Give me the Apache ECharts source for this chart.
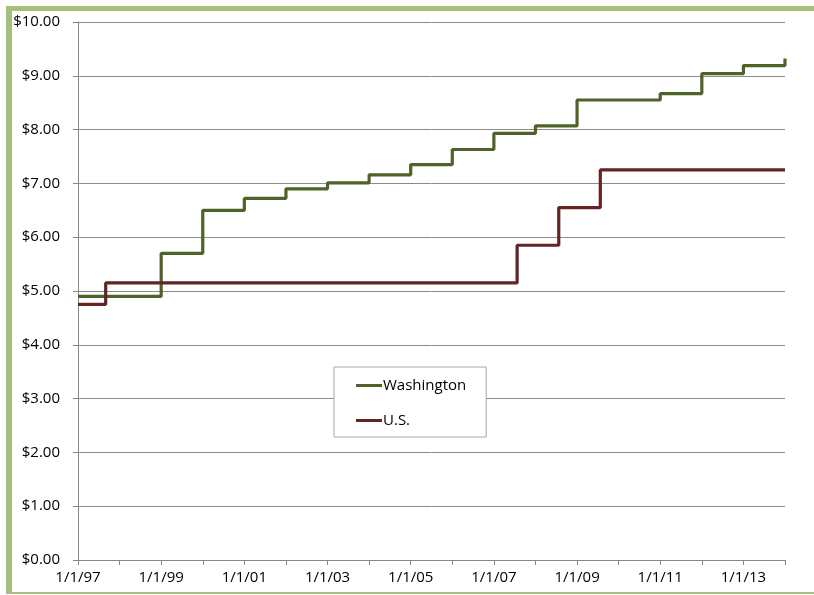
<!DOCTYPE html>
<html>
<head>
<meta charset="utf-8">
<script src="https://cdn.jsdelivr.net/npm/echarts@6/dist/echarts.min.js"></script>
<style>
html,body{margin:0;padding:0;background:#fff;}
#chart{width:814px;height:595px;}
</style>
</head>
<body>
<div id="chart"></div>
<script>
// Data (dates when each minimum wage took effect)
var waDates = ['1997-01-01','1999-01-01','2000-01-01','2001-01-01','2002-01-01','2003-01-01','2004-01-01','2005-01-01','2006-01-01','2007-01-01','2008-01-01','2009-01-01','2010-01-01','2011-01-01','2012-01-01','2013-01-01','2014-01-01'];
var waValues = [4.90, 5.70, 6.50, 6.72, 6.90, 7.01, 7.16, 7.35, 7.63, 7.93, 8.07, 8.55, 8.55, 8.67, 9.04, 9.19, 9.32];
var usDates = ['1997-01-01','1997-09-01','2007-07-24','2008-07-24','2009-07-24','2014-01-01'];
var usValues = [4.75, 5.15, 5.85, 6.55, 7.25, 7.25];
var seriesNames = ['Washington', 'U.S.'];
var yTicks = [0,1,2,3,4,5,6,7,8,9,10];

function toYear(s) {
  var p = s.split('-').map(Number);
  var start = Date.UTC(p[0], 0, 1), end = Date.UTC(p[0] + 1, 0, 1);
  return p[0] + (Date.UTC(p[0], p[1] - 1, p[2]) - start) / (end - start);
}
function pairs(dates, vals) {
  return dates.map(function (d, i) { return [toYear(d), vals[i]]; });
}

var font = '"Open Sans", "Noto Sans", sans-serif';
var chart = echarts.init(document.getElementById('chart'), null, {renderer: 'canvas'});
chart.setOption({
  animation: false,
  backgroundColor: '#ffffff',
  grid: {left: 78, right: 29, top: 22, bottom: 35, containLabel: false},
  xAxis: {
    type: 'value',
    min: 1997, max: 2014, interval: 1,
    axisLine: {show: true, lineStyle: {color: '#868686', width: 1}},
    axisTick: {show: true, length: 5, lineStyle: {color: '#868686'}},
    splitLine: {show: false},
    axisLabel: {
      margin: 10, color: '#000', fontSize: 15, fontFamily: font,
      formatter: function (v) {
        var y = Math.round(v);
        if ((y - 1997) % 2 !== 0) return '';
        return '1/1/' + String(y % 100).padStart(2, '0');
      }
    }
  },
  yAxis: {
    type: 'value',
    min: yTicks[0], max: yTicks[yTicks.length - 1], interval: 1,
    axisLine: {show: true, lineStyle: {color: '#868686', width: 1}},
    axisTick: {show: true, length: 5, lineStyle: {color: '#868686'}},
    splitLine: {show: true, lineStyle: {color: '#8c8c8c', width: 1}},
    axisLabel: {
      margin: 18, color: '#000', fontSize: 15, fontFamily: font,
      formatter: function (v) { return '$' + v.toFixed(2); }
    }
  },
  legend: {
    orient: 'vertical',
    left: 334, top: 367,
    padding: [11, 20, 9, 22],
    itemGap: 20,
    itemWidth: 26, itemHeight: 3,
    icon: 'rect',
    backgroundColor: '#ffffff',
    borderColor: '#a6a6a6', borderWidth: 1, borderRadius: 0,
    textStyle: {color: '#000', fontSize: 15, fontFamily: font, padding: [0, 0, 0, -4]},
    data: seriesNames
  },
  graphic: [
    {type: 'rect', shape: {x: 6, y: 6, width: 808, height: 5}, style: {fill: '#a5c07c'}, silent: true},
    {type: 'rect', shape: {x: 6, y: 6, width: 6, height: 588}, style: {fill: '#a5c07c'}, silent: true},
    {type: 'rect', shape: {x: 6, y: 592, width: 808, height: 2}, style: {fill: '#a5c07c'}, silent: true}
  ],
  series: [
    {
      name: seriesNames[0], type: 'line', step: 'end', showSymbol: false, symbol: 'none',
      lineStyle: {color: '#4f6228', width: 3.2}, itemStyle: {color: '#4f6228'},
      data: pairs(waDates, waValues), z: 2
    },
    {
      name: seriesNames[1], type: 'line', step: 'end', showSymbol: false, symbol: 'none',
      lineStyle: {color: '#632523', width: 3.2}, itemStyle: {color: '#632523'},
      data: pairs(usDates, usValues), z: 3
    }
  ]
});
</script>
</body>
</html>
